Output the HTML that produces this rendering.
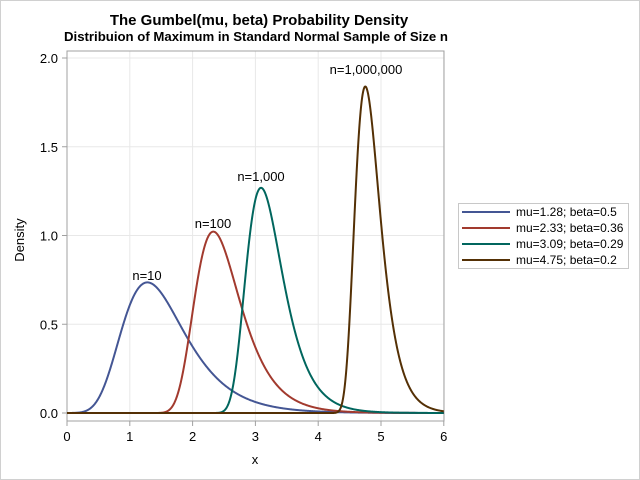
<!DOCTYPE html>
<html><head><style>body{margin:0;background:#fff}svg{display:block}</style></head><body>
<svg id="s" width="640" height="480" xmlns="http://www.w3.org/2000/svg" font-family="Liberation Sans, Arial, sans-serif">
<rect x="0.5" y="0.5" width="639" height="479" fill="#fff" stroke="#d0d0d0"/>
<text x="259" y="25" text-anchor="middle" font-size="15" font-weight="bold">The Gumbel(mu, beta) Probability Density</text>
<text x="256" y="41" text-anchor="middle" font-size="13.2" font-weight="bold">Distribuion of Maximum in Standard Normal Sample of Size n</text>
<g id="grid" stroke="#e8e8e8" stroke-width="1"></g>
<rect x="67" y="51" width="377" height="370" fill="none" stroke="#a0a0a0"/>
<g id="ticks" stroke="#a0a0a0"></g>
<g id="lab" font-size="13" fill="#000"></g>
<g id="curves" fill="none" stroke-width="2"></g>
<text x="24" y="240" font-size="13" text-anchor="middle" transform="rotate(-90 24 240)">Density</text>
<text x="255" y="464" font-size="13" text-anchor="middle">x</text>
<g font-size="13" text-anchor="middle">
<text x="147" y="280">n=10</text>
<text x="213" y="228">n=100</text>
<text x="261" y="181">n=1,000</text>
<text x="366" y="74">n=1,000,000</text>
</g>
<rect x="458.5" y="203.5" width="170" height="65" fill="#fff" stroke="#c8c8c8"/>
<g stroke-width="2">
<line x1="462" y1="212" x2="510" y2="212" stroke="#445694"/>
<line x1="462" y1="228" x2="510" y2="228" stroke="#A23A2E"/>
<line x1="462" y1="244" x2="510" y2="244" stroke="#01665E"/>
<line x1="462" y1="260" x2="510" y2="260" stroke="#543005"/>
</g>
<g font-size="12">
<text x="516" y="216">mu=1.28; beta=0.5</text>
<text x="516" y="232">mu=2.33; beta=0.36</text>
<text x="516" y="248">mu=3.09; beta=0.29</text>
<text x="516" y="264">mu=4.75; beta=0.2</text>
</g>
</svg>
<script>
var NS="http://www.w3.org/2000/svg";
function X(x){return 67+x*62.8}function Y(y){return 413-y*177.5}
function el(p,t,a,txt){var e=document.createElementNS(NS,t);for(var k in a)e.setAttribute(k,a[k]);if(txt)e.textContent=txt;document.getElementById(p).appendChild(e);}
for(var i=1;i<=6;i++)el("grid","line",{x1:X(i),x2:X(i),y1:51,y2:421});
[0.5,1,1.5,2].forEach(function(v){el("grid","line",{x1:67,x2:444,y1:Y(v),y2:Y(v)});});
for(var i=0;i<=6;i++){el("ticks","line",{x1:X(i),x2:X(i),y1:421,y2:426});el("lab","text",{x:X(i),y:441,"text-anchor":"middle"},""+i);}
[0,0.5,1,1.5,2].forEach(function(v){el("ticks","line",{x1:62,x2:67,y1:Y(v),y2:Y(v)});el("lab","text",{x:58,y:Y(v)+5,"text-anchor":"end"},v.toFixed(1));});
[[1.28,0.5,"#445694"],[2.33,0.36,"#A23A2E"],[3.09,0.29,"#01665E"],[4.75,0.2,"#543005"]].forEach(function(c){
var d="";for(var i=0;i<=1200;i++){var x=i*6/1200,z=(x-c[0])/c[1],f=Math.exp(-z-Math.exp(-z))/c[1];d+=(i?"L":"M")+X(x).toFixed(2)+" "+Y(f).toFixed(2);}
el("curves","path",{d:d,stroke:c[2]});});
</script>
</body></html>
